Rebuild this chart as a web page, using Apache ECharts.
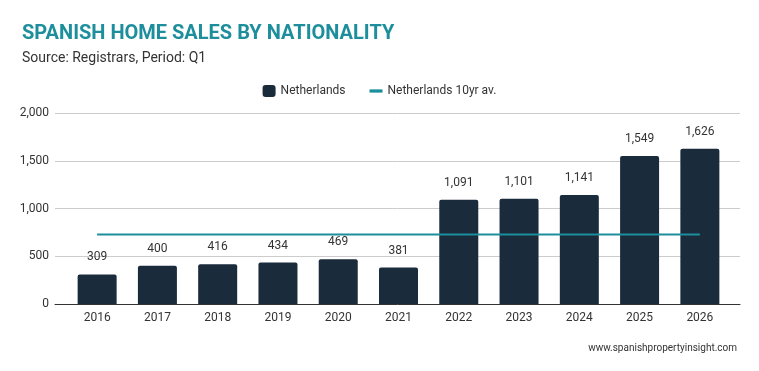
<!DOCTYPE html>
<html>
<head>
<meta charset="utf-8">
<script src="https://cdn.jsdelivr.net/npm/echarts@6/dist/echarts.min.js"></script>
<style>
  html, body { margin: 0; padding: 0; background: #fff; }
  #chart { width: 759px; height: 371px; }
</style>
</head>
<body>
<div id="chart"></div>
<script>
const years = ['2016', '2017', '2018', '2019', '2020', '2021', '2022', '2023', '2024', '2025', '2026']
const sales = [309, 400, 416, 434, 469, 381, 1091, 1101, 1141, 1549, 1626]
const avg10yr = [729, 729, 729, 729, 729, 729, 729, 729, 729, 729, 729]

const font = 'Roboto, "Noto Sans", sans-serif'
const chart = echarts.init(document.getElementById('chart'))

chart.setOption({
  animation: false,
  textStyle: { fontFamily: font },
  title: [
    {
      text: 'SPANISH HOME SALES BY NATIONALITY',
      left: 17, top: 19,
      textStyle: { color: '#1d8e9b', fontSize: 20, fontWeight: 'bold', fontFamily: font }
    },
    {
      text: 'Source: Registrars, Period: Q1',
      left: 17, top: 46,
      textStyle: { color: '#333', fontSize: 14, fontWeight: 'normal', fontFamily: font }
    },
    {
      text: 'www.spanishpropertyinsight.com',
      right: 17, top: 338,
      textStyle: { color: '#333', fontSize: 10, fontWeight: 'normal', fontFamily: font }
    }
  ],
  legend: {
    top: 80, left: 'center',
    itemGap: 24,
    itemWidth: 13, itemHeight: 12,
    textStyle: { color: '#333', fontSize: 12 },
    data: [
      { name: 'Netherlands', icon: 'roundRect' },
      { name: 'Netherlands 10yr av.', icon: 'path://M0,0L12,0L12,3L0,3Z' }
    ]
  },
  grid: [
    // bars and categories
    { left: 67, right: 29, top: 113, bottom: 67 },
    // wide background grid for gridlines and y labels
    { left: 55, right: 19, top: 113, bottom: 67 }
  ],
  xAxis: [
    {
      type: 'category', gridIndex: 0, data: years,
      axisLine: { show: false }, axisTick: { show: false },
      axisLabel: { color: '#333', fontSize: 12, margin: 8 }
    },
    {
      type: 'value', gridIndex: 1, min: 0, max: 1,
      axisLine: { show: true, onZero: false, lineStyle: { color: '#333', width: 1 } },
      axisTick: { show: false }, axisLabel: { show: false }, splitLine: { show: false }
    }
  ],
  yAxis: [
    {
      type: 'value', gridIndex: 0, min: 0, max: 2000, interval: 500,
      axisLabel: { show: false }, splitLine: { show: false },
      axisLine: { show: false }, axisTick: { show: false }
    },
    {
      type: 'value', gridIndex: 1, min: 0, max: 2000, interval: 500,
      axisLine: { show: false }, axisTick: { show: false },
      axisLabel: {
        color: '#333', fontSize: 12, margin: 6,
        formatter: (v) => v.toLocaleString('en-US')
      },
      splitLine: { show: true, lineStyle: { color: '#cccccc', width: 1 } }
    }
  ],
  series: [
    {
      name: 'Netherlands',
      type: 'bar',
      xAxisIndex: 0, yAxisIndex: 0,
      data: sales,
      barWidth: 39,
      itemStyle: { color: '#1a2b3b', borderRadius: [2, 2, 0, 0] },
      label: {
        show: true, position: 'top', distance: 11,
        color: '#333', fontSize: 12,
        formatter: (p) => p.value.toLocaleString('en-US')
      },
      z: 2
    },
    {
      name: 'Netherlands 10yr av.',
      type: 'line',
      xAxisIndex: 0, yAxisIndex: 0,
      data: avg10yr,
      symbol: 'none',
      lineStyle: { color: '#1d8e9b', width: 2 },
      itemStyle: { color: '#1d8e9b' },
      z: 3
    }
  ]
})
</script>
</body>
</html>
